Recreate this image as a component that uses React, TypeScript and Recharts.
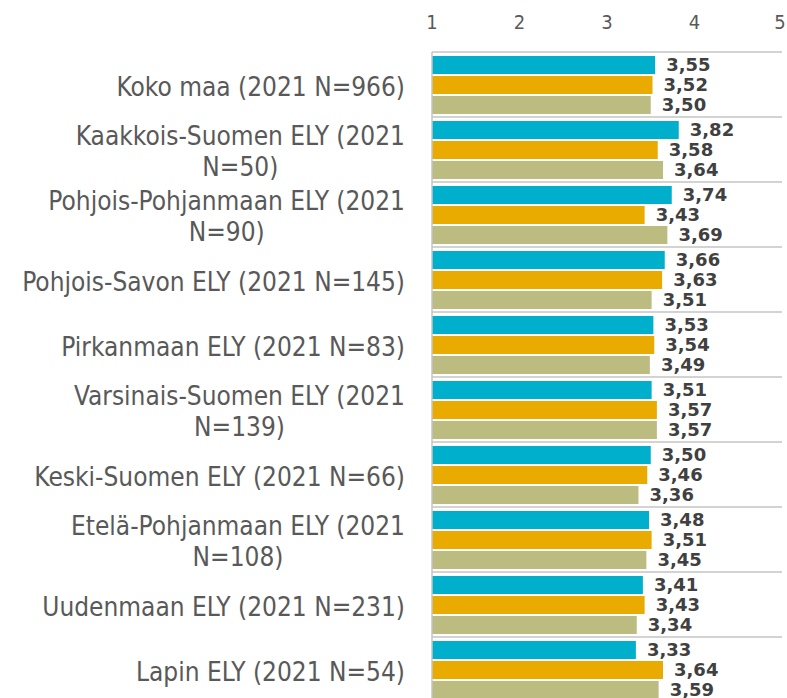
import * as React from "react";
import { Bar, BarChart, CartesianGrid, LabelList, XAxis, YAxis } from "recharts";

const categories = [
  "Koko maa (2021 N=966)",
  "Kaakkois-Suomen ELY (2021 N=50)",
  "Pohjois-Pohjanmaan ELY (2021 N=90)",
  "Pohjois-Savon ELY (2021 N=145)",
  "Pirkanmaan ELY (2021 N=83)",
  "Varsinais-Suomen ELY (2021 N=139)",
  "Keski-Suomen ELY (2021 N=66)",
  "Etelä-Pohjanmaan ELY (2021 N=108)",
  "Uudenmaan ELY (2021 N=231)",
  "Lapin ELY (2021 N=54)",
];
const seriesA = [3.55, 3.82, 3.74, 3.66, 3.53, 3.51, 3.5, 3.48, 3.41, 3.33];
const seriesB = [3.52, 3.58, 3.43, 3.63, 3.54, 3.57, 3.46, 3.51, 3.43, 3.64];
const seriesC = [3.5, 3.64, 3.69, 3.51, 3.49, 3.57, 3.36, 3.45, 3.34, 3.59];
const xTicks = [1, 2, 3, 4, 5];

const COLOR_A = "#00AFCB";
const COLOR_B = "#E9AB00";
const COLOR_C = "#BDBC80";
const GRID = "#C4C4C4";
const LABEL_FONT = "'DejaVu Sans Condensed', 'DejaVu Sans', sans-serif";
const LABEL_SIZE = 26;
const LINE_H = 31;

const data = categories.map((name, i) => ({
  name,
  a: seriesA[i],
  b: seriesB[i],
  c: seriesC[i],
}));

let ctx: CanvasRenderingContext2D | null = null;
function measure(s: string): number {
  if (!ctx) ctx = document.createElement("canvas").getContext("2d");
  if (!ctx) return s.length * LABEL_SIZE * 0.55;
  ctx.font = `${LABEL_SIZE}px ${LABEL_FONT}`;
  return ctx.measureText(s).width;
}

// rivitys kuten Excelissä: sanat riville niin kauan kuin mahtuu
function wrap(text: string, maxW: number): string[] {
  const words = text.split(" ");
  const lines: string[] = [];
  let cur = "";
  for (const w of words) {
    const next = cur ? cur + " " + w : w;
    if (cur && measure(next) > maxW) {
      lines.push(cur);
      cur = w;
    } else {
      cur = next;
    }
  }
  if (cur) lines.push(cur);
  return lines;
}

function CategoryTick(props: any) {
  const { x, y, payload } = props;
  const lines = wrap(String(payload.value), 398);
  const w = Math.max(...lines.map(measure));
  const cx = x - w / 2;
  const y0 = y - ((lines.length - 1) * LINE_H) / 2 + LABEL_SIZE * 0.36 + 2;
  return (
    <text textAnchor="middle" fill="#595959" fontSize={LABEL_SIZE} fontFamily={LABEL_FONT}>
      {lines.map((l, i) => (
        <tspan key={i} x={cx} y={y0 + i * LINE_H}>
          {l}
        </tspan>
      ))}
    </text>
  );
}

const fmt = (v: any) => Number(v).toFixed(2).replace(".", ",");

export default function App() {
  const labelStyle = {
    fill: "#404040",
    fontSize: 18,
    fontWeight: 700,
    fontFamily: "'DejaVu Sans', sans-serif",
  };
  return (
    <div
      style={{
        position: "fixed",
        left: 0,
        top: 0,
        width: 787,
        height: 698,
        overflow: "hidden",
        background: "#fff",
      }}
    >
      <BarChart
        width={787}
        height={702}
        data={data}
        layout="vertical"
        margin={{ top: 22, right: 5, bottom: 0, left: 0 }}
        barSize={18}
        barGap={2}
        style={{ overflow: "visible" }}
      >
        <CartesianGrid
          vertical={false}
          stroke={GRID}
          strokeWidth={1.5}
          horizontalCoordinatesGenerator={({ offset }: any) =>
            categories
              .map((_, i) => offset.top + (i * offset.height) / categories.length)
              .concat(offset.top + offset.height)
          }
        />
        <XAxis
          type="number"
          orientation="top"
          domain={[1, 5]}
          ticks={xTicks}
          axisLine={false}
          tickLine={false}
          tickSize={0}
          tickMargin={23}
          height={30}
          tick={{ fill: "#595959", fontSize: 20, fontFamily: LABEL_FONT }}
          allowDataOverflow
        />
        <YAxis
          type="category"
          dataKey="name"
          width={432}
          axisLine={{ stroke: GRID, strokeWidth: 1.5 }}
          tickLine={false}
          tickSize={0}
          tickMargin={27}
          interval={0}
          tick={<CategoryTick />}
        />
        <Bar dataKey="a" fill={COLOR_A} isAnimationActive={false}>
          <LabelList dataKey="a" position="right" offset={11} formatter={fmt} style={labelStyle} />
        </Bar>
        <Bar dataKey="b" fill={COLOR_B} isAnimationActive={false}>
          <LabelList dataKey="b" position="right" offset={11} formatter={fmt} style={labelStyle} />
        </Bar>
        <Bar dataKey="c" fill={COLOR_C} isAnimationActive={false}>
          <LabelList dataKey="c" position="right" offset={11} formatter={fmt} style={labelStyle} />
        </Bar>
      </BarChart>
    </div>
  );
}
